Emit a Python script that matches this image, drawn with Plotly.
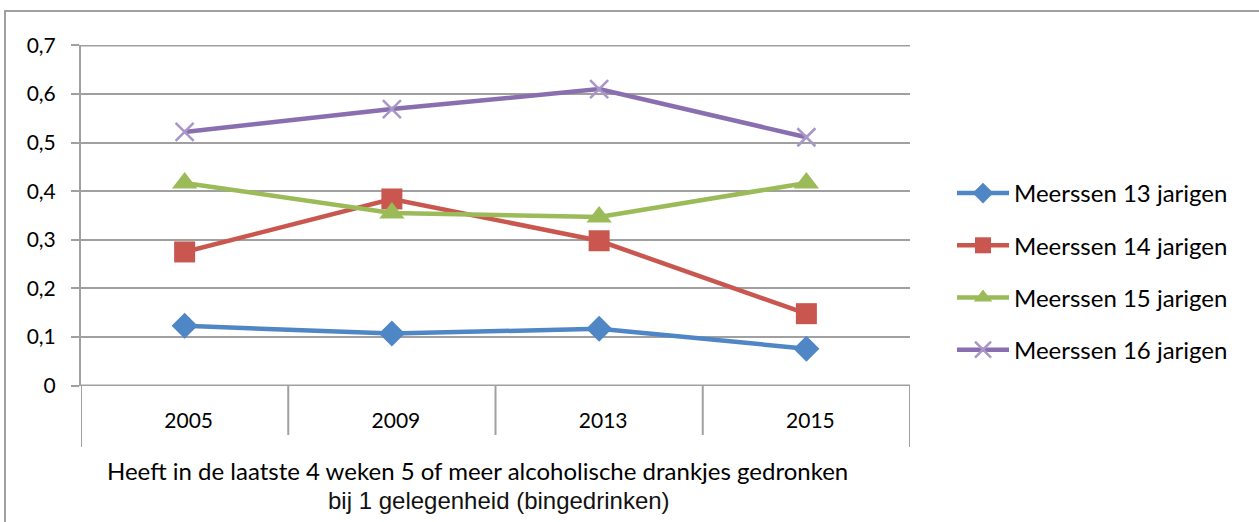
import plotly.graph_objects as go

years = ["2005", "2009", "2013", "2015"]
s13 = [0.123, 0.107, 0.117, 0.076]
s14 = [0.275, 0.384, 0.298, 0.148]
s15 = [0.417, 0.355, 0.347, 0.417]
s16 = [0.522, 0.569, 0.610, 0.511]
names = ["Meerssen 13 jarigen", "Meerssen 14 jarigen", "Meerssen 15 jarigen", "Meerssen 16 jarigen"]
yticks = [0, 0.1, 0.2, 0.3, 0.4, 0.5, 0.6, 0.7]
yticklabels = ["0", "0,1", "0,2", "0,3", "0,4", "0,5", "0,6", "0,7"]
title_line1 = "Heeft in de laatste 4 weken 5 of meer alcoholische drankjes gedronken"
title_line2 = "bij 1 gelegenheid (bingedrinken)"

W, H = 1259, 522
L, R, T, B = 81, 910, 45, 386
pw, ph = R - L, B - T

def px_x(p):
    return (p - L) / pw

def px_y(p):
    return (B - p) / ph

fig = go.Figure()
styles = [
    dict(color="#4F86C6", marker=dict(symbol="diamond", size=20, color="#4F86C6")),
    dict(color="#C9574F", marker=dict(symbol="square", size=21, color="#C9574F")),
    dict(color="#9BBB59", marker=dict(symbol="triangle-up", size=22, color="#9BBB59")),
    dict(color="#8A6FB0", marker=dict(symbol="x-thin", size=18, color="#A896C8",
                                       line=dict(width=2.5, color="#A896C8"))),
]
for i, (vals, nm, st) in enumerate(zip([s13, s14, s15, s16], names, styles)):
    fig.add_trace(go.Scatter(
        x=years, y=vals, name=nm, mode="lines+markers",
        line=dict(color=st["color"], width=4.5),
        marker=st["marker"], legendgroup=f"g{i}",
    ))

gray = "#A0A0A0"
shapes = []
# outer border
shapes.append(dict(type="rect", xref="paper", yref="paper",
                   x0=px_x(5), x1=px_x(1400), y0=px_y(11), y1=px_y(700),
                   line=dict(color=gray, width=2), fillcolor="rgba(0,0,0,0)", layer="below"))
# edge gridlines (bottom and top ticks)
for yv in (yticks[0], yticks[-1]):
    shapes.append(dict(type="line", xref="paper", yref="y", x0=0, x1=1, y0=yv, y1=yv,
                       line=dict(color=gray, width=2), layer="below"))
# category separators (below the axis)
for k, xv in enumerate([-0.5, 0.5, 1.5, 2.5, 3.5]):
    endpx = 447 if k in (0, 4) else 435
    shapes.append(dict(type="line", xref="x", yref="paper", x0=xv, x1=xv,
                       y0=0, y1=px_y(endpx),
                       line=dict(color=gray, width=2), layer="above"))

fig.update_layout(
    width=W, height=H,
    margin=dict(l=L, r=W - R, t=T, b=H - B),
    paper_bgcolor="white", plot_bgcolor="white",
    font=dict(family="Lato", size=21, color="#000000"),
    showlegend=True,
    legend=dict(x=px_x(952), y=px_y(171), xanchor="left", yanchor="top",
                font=dict(family="Lato", size=24, color="#000000"),
                tracegroupgap=18, itemwidth=52, bgcolor="rgba(0,0,0,0)"),
    xaxis=dict(type="category", range=[-0.5, 3.5], showgrid=False, zeroline=False,
               showline=False, ticks="", ticklabelstandoff=20, ticklabelshift=4,
               tickfont=dict(family="Lato", size=21, color="#000000")),
    yaxis=dict(range=[-0.0008, 0.7008], tickvals=yticks, ticktext=yticklabels,
               showgrid=True, gridcolor=gray, gridwidth=2, zeroline=False,
               showline=True, linecolor=gray, linewidth=2,
               ticks="outside", ticklen=8, tickcolor=gray, tickwidth=2,
               ticklabelstandoff=11,
               tickfont=dict(family="Lato", size=21, color="#000000")),
    shapes=shapes,
    annotations=[
        dict(xref="paper", yref="paper", x=px_x(477), y=px_y(470),
             xanchor="center", yanchor="middle", showarrow=False,
             text=title_line1,
             font=dict(family="Lato", size=24, color="#000000")),
        dict(xref="paper", yref="paper", x=px_x(499), y=px_y(500),
             xanchor="center", yanchor="middle", showarrow=False,
             text=title_line2,
             font=dict(family="Liberation Sans", size=24, color="#111111")),
    ],
)
fig.write_html("out.html", config={"displayModeBar": False},
               post_script="document.body.style.margin='0';")
